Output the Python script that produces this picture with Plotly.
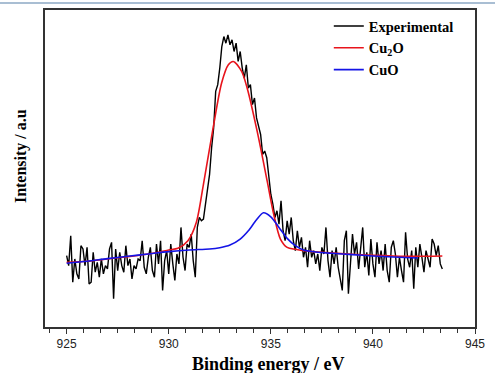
import numpy as np
import plotly.graph_objects as go

# Experimental Cu 2p3/2 spectrum, 0.1 eV steps from 925.0 to 943.4 eV (a.u.)
energy_start = 925.0
energy_step = 0.1
experimental = [
    215, 185, 275, 135, 205, 160, 145, 245, 235, 185,
    240, 130, 135, 225, 165, 195, 150, 205, 160, 185,
    175, 235, 255, 85, 235, 170, 225, 185, 165, 245,
    185, 205, 145, 185, 175, 205, 200, 260, 180, 160,
    210, 240, 170, 150, 250, 190, 260, 110, 200, 230,
    160, 250, 190, 140, 220, 190, 300, 210, 170, 250,
    240, 280, 200, 150, 300, 330, 320, 325, 370, 420,
    460, 540, 600, 710, 730, 780, 845, 875, 855, 880,
    850, 865, 830, 855, 800, 830, 780, 750, 790, 720,
    730, 670, 690, 630, 600, 580, 520, 530, 510, 450,
    400, 370, 330, 350, 310, 380, 290, 260, 320, 280,
    330, 260, 230, 290, 240, 270, 210, 240, 180, 260,
    210, 230, 190, 220, 170, 240, 220, 300, 200, 150,
    230, 190, 240, 180, 150, 110, 260, 290, 100, 200,
    280, 220, 255, 175, 235, 300, 180, 225, 155, 265,
    190, 150, 255, 190, 230, 170, 250, 170, 135, 240,
    260, 220, 150, 210, 170, 135, 285, 205, 180, 230,
    115, 240, 180, 250, 210, 165, 230, 205, 180, 265,
    250, 215, 245, 190, 175,
]
energy = np.round(energy_start + energy_step * np.arange(len(experimental)), 2)

# Fitted Cu2O component (with background)
cu2o_energy = [925.0, 926.0, 927.0, 928.0, 929.0, 929.5, 930.0, 930.45, 930.94,
               931.35, 931.7, 932.18, 932.59, 932.92, 933.16, 933.57, 933.84,
               934.33, 934.82, 935.14, 935.47, 935.8, 936.2, 936.6, 937.5,
               939.0, 940.0, 941.0, 942.0, 943.4]
cu2o_fit = [195, 198, 205, 212, 220, 225, 232, 237, 260,
            315, 430, 602, 735, 790, 800, 770, 720,
            590, 440, 340, 265, 240, 234, 230, 225,
            219, 216, 214, 213, 214]

# Fitted CuO component (with background)
cuo_energy = [925.0, 926.0, 927.0, 928.0, 929.0, 930.0, 931.0, 932.0, 932.5,
              933.0, 933.5, 933.9, 934.3, 934.64, 935.0, 935.4, 935.8, 936.2,
              936.6, 937.2, 938.0, 939.0, 940.0, 941.0, 942.2]
cuo_fit = [192, 198, 206, 213, 220, 227, 232, 235, 239,
           247, 265, 290, 323, 344, 332, 300, 267, 245,
           232, 226, 222, 218, 214, 211, 208]

x_ticks = [925, 930, 935, 940, 945]

fig = go.Figure()
fig.add_trace(go.Scatter(x=energy, y=experimental, mode="lines", name="Experimental",
                         line=dict(color="black", width=1.4)))
fig.add_trace(go.Scatter(x=cu2o_energy, y=cu2o_fit, mode="lines", name="Cu<sub>2</sub>O",
                         line=dict(color="#e8141c", width=1.6, shape="spline", smoothing=0.8)))
fig.add_trace(go.Scatter(x=cuo_energy, y=cuo_fit, mode="lines", name="CuO",
                         line=dict(color="#1414e6", width=1.6, shape="spline", smoothing=0.8)))

serif = "Liberation Serif, Times New Roman, serif"

fig.update_layout(
    width=495, height=373,
    margin=dict(l=45, r=20, t=8, b=46),
    paper_bgcolor="white", plot_bgcolor="white",
    showlegend=True,
    legend=dict(x=0.66, y=1.0, xanchor="left", yanchor="top",
                bgcolor="rgba(0,0,0,0)", borderwidth=0, tracegroupgap=0,
                font=dict(family=serif, size=14.5, color="black", weight="bold")),
    xaxis=dict(range=[923.94, 945.0], tickvals=x_ticks, ticks="outside", ticklen=5,
               tickwidth=1.2, tickcolor="#333", showline=True, linecolor="#333", linewidth=1.5,
               mirror=True, showgrid=False, zeroline=False,
               tickfont=dict(family="Liberation Sans, Arial, sans-serif", size=12, color="#222"),
               minor=dict(tick0=925, dtick=5/6, ticks="outside", ticklen=4, tickwidth=1.1,
                          tickcolor="#333", showgrid=False)),
    yaxis=dict(range=[0, 955], showticklabels=False, ticks="", showline=True,
               linecolor="#333", linewidth=1.5, mirror=True, showgrid=False, zeroline=False),
    annotations=[
        dict(text="<b>Binding energy / eV</b>", xref="paper", yref="paper",
             x=(268.3 - 45) / 430, y=0, yshift=-25, xanchor="center", yanchor="top",
             showarrow=False, font=dict(family=serif, size=18, color="black")),
        dict(text="<b>Intensity / a.u</b>", xref="paper", yref="paper",
             x=0, xshift=-24, y=(327 - 155) / 319, xanchor="center", yanchor="middle",
             textangle=-90, showarrow=False, font=dict(family=serif, size=16, color="black")),
    ],
    shapes=[dict(type="line", xref="paper", yref="paper", x0=-45 / 430, x1=1 + 20 / 430,
                 y0=1 + 7 / 319, y1=1 + 7 / 319, line=dict(color="#a9bed3", width=2))],
)

fig.write_html("out.html", config={"displayModeBar": False},
               post_script="document.body.style.margin='0';")
